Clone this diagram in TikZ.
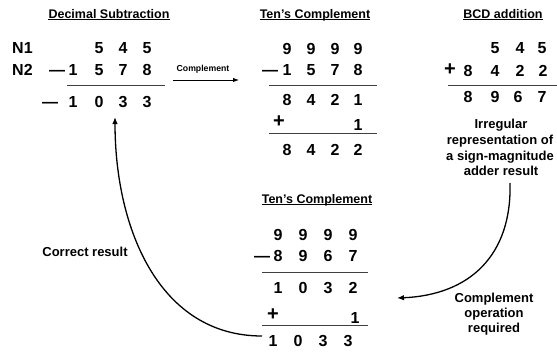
\documentclass[tikz,border=0pt]{standalone}
\usepackage{fontspec}
\setmainfont{Liberation Sans}
\usetikzlibrary{arrows.meta}
\newcommand\digrow[3]{\foreach \px/\d [count=\k] in {#3} {\node[dig] (#1\k) at (\px,#2) {\d};}}
\begin{document}
\begin{tikzpicture}[x=1pt,y=-1pt,
  dig/.style={anchor=base,inner sep=0pt,font=\fontsize{16}{16}\selectfont\bfseries},
  mdash/.style={anchor=base,inner sep=0pt,font=\fontsize{16}{16}\selectfont\bfseries},
  plus/.style={inner sep=0pt,font=\fontsize{20}{20}\selectfont\bfseries},
  title/.style={anchor=base,inner sep=0pt,font=\fontsize{12.5}{12.5}\selectfont\bfseries},
  lbl/.style={anchor=base,inner sep=0pt,font=\fontsize{13}{13}\selectfont\bfseries},
  rule/.style={black!75,line width=0.9pt},
  uline/.style={black,line width=0.9pt},
  conn/.style={line width=1.3pt,-{Latex[length=7pt,width=5.5pt]}}]
\path[use as bounding box] (0,0) rectangle (557,351);

% ---- Decimal Subtraction
\node[title] (t1) at (109,18) {Decimal Subtraction};
\draw[uline] ([yshift=-1.8pt]t1.base west) -- ([yshift=-1.8pt]t1.base east);
\node[dig,anchor=base west] (n1) at (12,53) {N1};
\node[dig,anchor=base west] (n2) at (12,75) {N2};
\digrow{a}{53}{99/5,123/4,147/5}
\node[mdash] (ad) at (57,75) {—};
\digrow{b}{75}{73/1,99/5,123/7,147/8}
\coordinate (l1a) at (67,85); \coordinate (l1b) at (165,85);
\draw[rule] (l1a) -- (l1b);
\node[mdash] (cd) at (50,107) {—};
\digrow{c}{107}{73/1,99/0,123/3,147/3}

% complement arrow
\node[inner sep=0pt,font=\fontsize{8.7}{8.7}\selectfont\bfseries] (cl) at (203,69) {Complement};
\coordinate (ca) at (173,80); \coordinate (cb) at (239,80);
\draw[line width=1pt,-{Latex[length=6pt,width=4.5pt]}] (ca) -- (cb);

% ---- Ten's Complement (top)
\node[title] (t2) at (315,18) {Ten’s Complement};
\draw[uline] ([yshift=-1.8pt]t2.base west) -- ([yshift=-1.8pt]t2.base east);
\digrow{d}{54}{287/9,311/9,335/9,358/9}
\node[mdash] (ed) at (270,75) {—};
\digrow{e}{75}{287/1,311/5,335/7,358/8}
\coordinate (l2a) at (269,85); \coordinate (l2b) at (377,85);
\draw[rule] (l2a) -- (l2b);
\digrow{f}{105}{287/8,311/4,335/2,358/1}
\node[plus] (fp) at (279,122) {+};
\node[dig] (g1) at (358,130) {1};
\coordinate (l3a) at (269,133); \coordinate (l3b) at (377,133);
\draw[rule] (l3a) -- (l3b);
\digrow{h}{155}{287/8,311/4,335/2,358/2}

% ---- BCD addition
\node[title] (t3) at (503,18) {BCD addition};
\draw[uline] ([yshift=-1.8pt]t3.base west) -- ([yshift=-1.8pt]t3.base east);
\digrow{i}{53}{495/5,520/4,542/5}
\node[plus] (jp) at (450,70) {+};
\digrow{j}{76}{468/8,495/4,520/2,543/2}
\coordinate (l4a) at (448,85); \coordinate (l4b) at (557,85);
\draw[rule] (l4a) -- (l4b);
\digrow{k}{102}{468/8,495/9,518/6,542/7}
\node[lbl] (ir1) at (501,128) {Irregular};
\node[lbl] (ir2) at (500,144) {representation of};
\node[lbl] (ir3) at (500,160) {a sign-magnitude};
\node[lbl] (ir4) at (501,175) {adder result};

% ---- Ten's Complement (bottom)
\node[title] (t4) at (317,203) {Ten’s Complement};
\draw[uline] ([yshift=-1.8pt]t4.base west) -- ([yshift=-1.8pt]t4.base east);
\digrow{m}{240}{278/9,303/9,328/9,353/9}
\node[mdash] (nd) at (262,261) {—};
\digrow{n}{261}{278/8,303/9,328/6,353/7}
\coordinate (l5a) at (262,272); \coordinate (l5b) at (368,272);
\draw[rule] (l5a) -- (l5b);
\digrow{o}{293}{278/1,303/0,328/3,353/2}
\node[plus] (pp) at (273,315) {+};
\node[dig] (p1) at (355,323) {1};
\coordinate (l6a) at (262,325); \coordinate (l6b) at (368,325);
\draw[rule] (l6a) -- (l6b);
\digrow{q}{346}{273/1,298/0,323/3,348/3}

% ---- labels
\node[lbl] (co1) at (494,302) {Complement};
\node[lbl] (co2) at (494,317) {operation};
\node[lbl] (co3) at (494,332) {required};
\node[lbl] (cr) at (85,256) {Correct result};

% ---- curved arrows
\coordinate (s1) at (510,183); \coordinate (e1) at (397,298);
\draw[conn] (s1) .. controls (512,255) and (470,295) .. (e1);
\coordinate (s2) at (262,336); \coordinate (e2) at (115,117);
\draw[conn] (s2) .. controls (160,336) and (115,230) .. (e2);
\end{tikzpicture}
\end{document}
